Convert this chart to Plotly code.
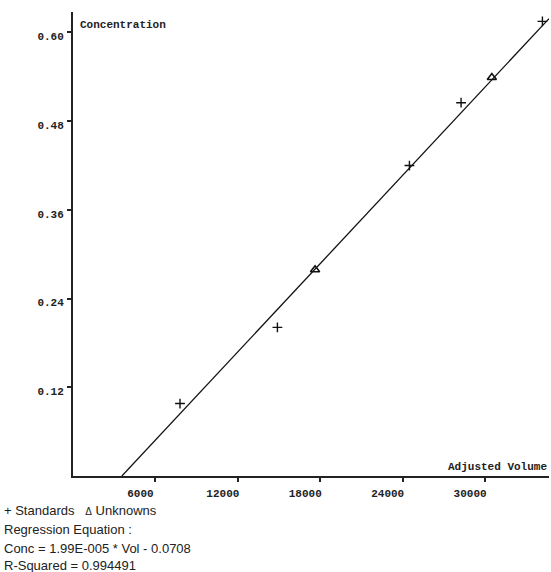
import plotly.graph_objects as go

# ---- data ----
std_vol = [7790, 14880, 24490, 28250, 34170]
std_conc = [0.098, 0.201, 0.420, 0.505, 0.615]
unk_vol = [17620, 30490]
unk_conc = [0.279, 0.539]
slope = 1.99e-5
intercept = -0.0708
x_ticks = [6000, 12000, 18000, 24000, 30000]
y_ticks = [0.12, 0.24, 0.36, 0.48, 0.60]
y_tick_text = ["0.12", "0.24", "0.36", "0.48", "0.60"]
x_range = [0, 34650]
y_range = [0, 0.6277]

legend_text = "+ Standards&nbsp;&nbsp;&nbsp;<span style='font-size:10px'>Δ</span> Unknowns"
eq_lines = ["Regression Equation :",
            "Conc = 1.99E-005 * Vol - 0.0708",
            "R-Squared = 0.994491"]

# ---- layout geometry (pixels) ----
W, H = 551, 572
ML, MR, MT, MB = 73, 2, 12, 96
ph = H - MT - MB

def py(p):
    return (H - MB - p) / ph

def pxx(p):
    return (p - ML) / (W - ML - MR)

line_x = [-intercept / slope, x_range[1]]
line_y = [slope * v + intercept for v in line_x]

fig = go.Figure()
fig.add_trace(go.Scatter(x=line_x, y=line_y, mode="lines",
                         line=dict(color="#111", width=1.3), hoverinfo="skip",
                         showlegend=False))
fig.add_trace(go.Scatter(x=std_vol, y=std_conc, mode="markers", name="Standards",
                         marker=dict(symbol="cross-thin", size=7,
                                     line=dict(color="#111", width=1.4)),
                         cliponaxis=False, showlegend=False))
fig.add_trace(go.Scatter(x=unk_vol, y=unk_conc, mode="markers", name="Unknowns",
                         marker=dict(symbol="triangle-up-open", size=8, color="#111",
                                     line=dict(color="#111", width=1.6)),
                         cliponaxis=False, showlegend=False))

mono = dict(family="Liberation Mono, Courier New, monospace", size=11, color="#222", weight="bold")
sans = dict(family="Liberation Sans, Arial, sans-serif", size=13, color="#222")

annotations = [
    dict(text="Concentration", x=pxx(78), y=py(25), xref="paper", yref="paper",
         xanchor="left", yanchor="middle", showarrow=False, font=mono),
    dict(text="Adjusted Volume", x=pxx(549), y=py(467), xref="paper", yref="paper",
         xanchor="right", yanchor="middle", showarrow=False, font=mono),
    dict(text=legend_text, x=pxx(2), y=py(510), xref="paper", yref="paper",
         xanchor="left", yanchor="middle", showarrow=False, font=sans),
]
for i, t in enumerate(eq_lines):
    annotations.append(dict(text=t, x=pxx(2), y=py([529, 548, 565][i]), xref="paper",
                            yref="paper", xanchor="left", yanchor="middle",
                            showarrow=False, font=sans))

fig.update_layout(
    width=W, height=H,
    margin=dict(l=ML, r=MR, t=MT, b=MB, pad=0),
    paper_bgcolor="white", plot_bgcolor="white",
    annotations=annotations,
    showlegend=False,
)
fig.update_xaxes(range=x_range, tickvals=x_ticks, ticktext=[str(v) for v in x_ticks],
                 showgrid=False, zeroline=False, showline=True, linecolor="#222",
                 linewidth=2, ticks="outside", ticklen=4, tickwidth=1.5, tickcolor="#222",
                 tickfont=mono, ticklabelshift=-15, ticklabelstandoff=2)
fig.update_yaxes(range=y_range, tickvals=y_ticks, ticktext=y_tick_text,
                 showgrid=False, zeroline=False, showline=True, linecolor="#222",
                 linewidth=2, ticks="outside", ticklen=4, tickwidth=1.5, tickcolor="#222",
                 tickfont=mono, ticklabelshift=4, ticklabelstandoff=1)

fig.write_html("out.html", config={"displayModeBar": False},
               post_script="document.body.style.margin='0';document.body.style.overflow='hidden';")
